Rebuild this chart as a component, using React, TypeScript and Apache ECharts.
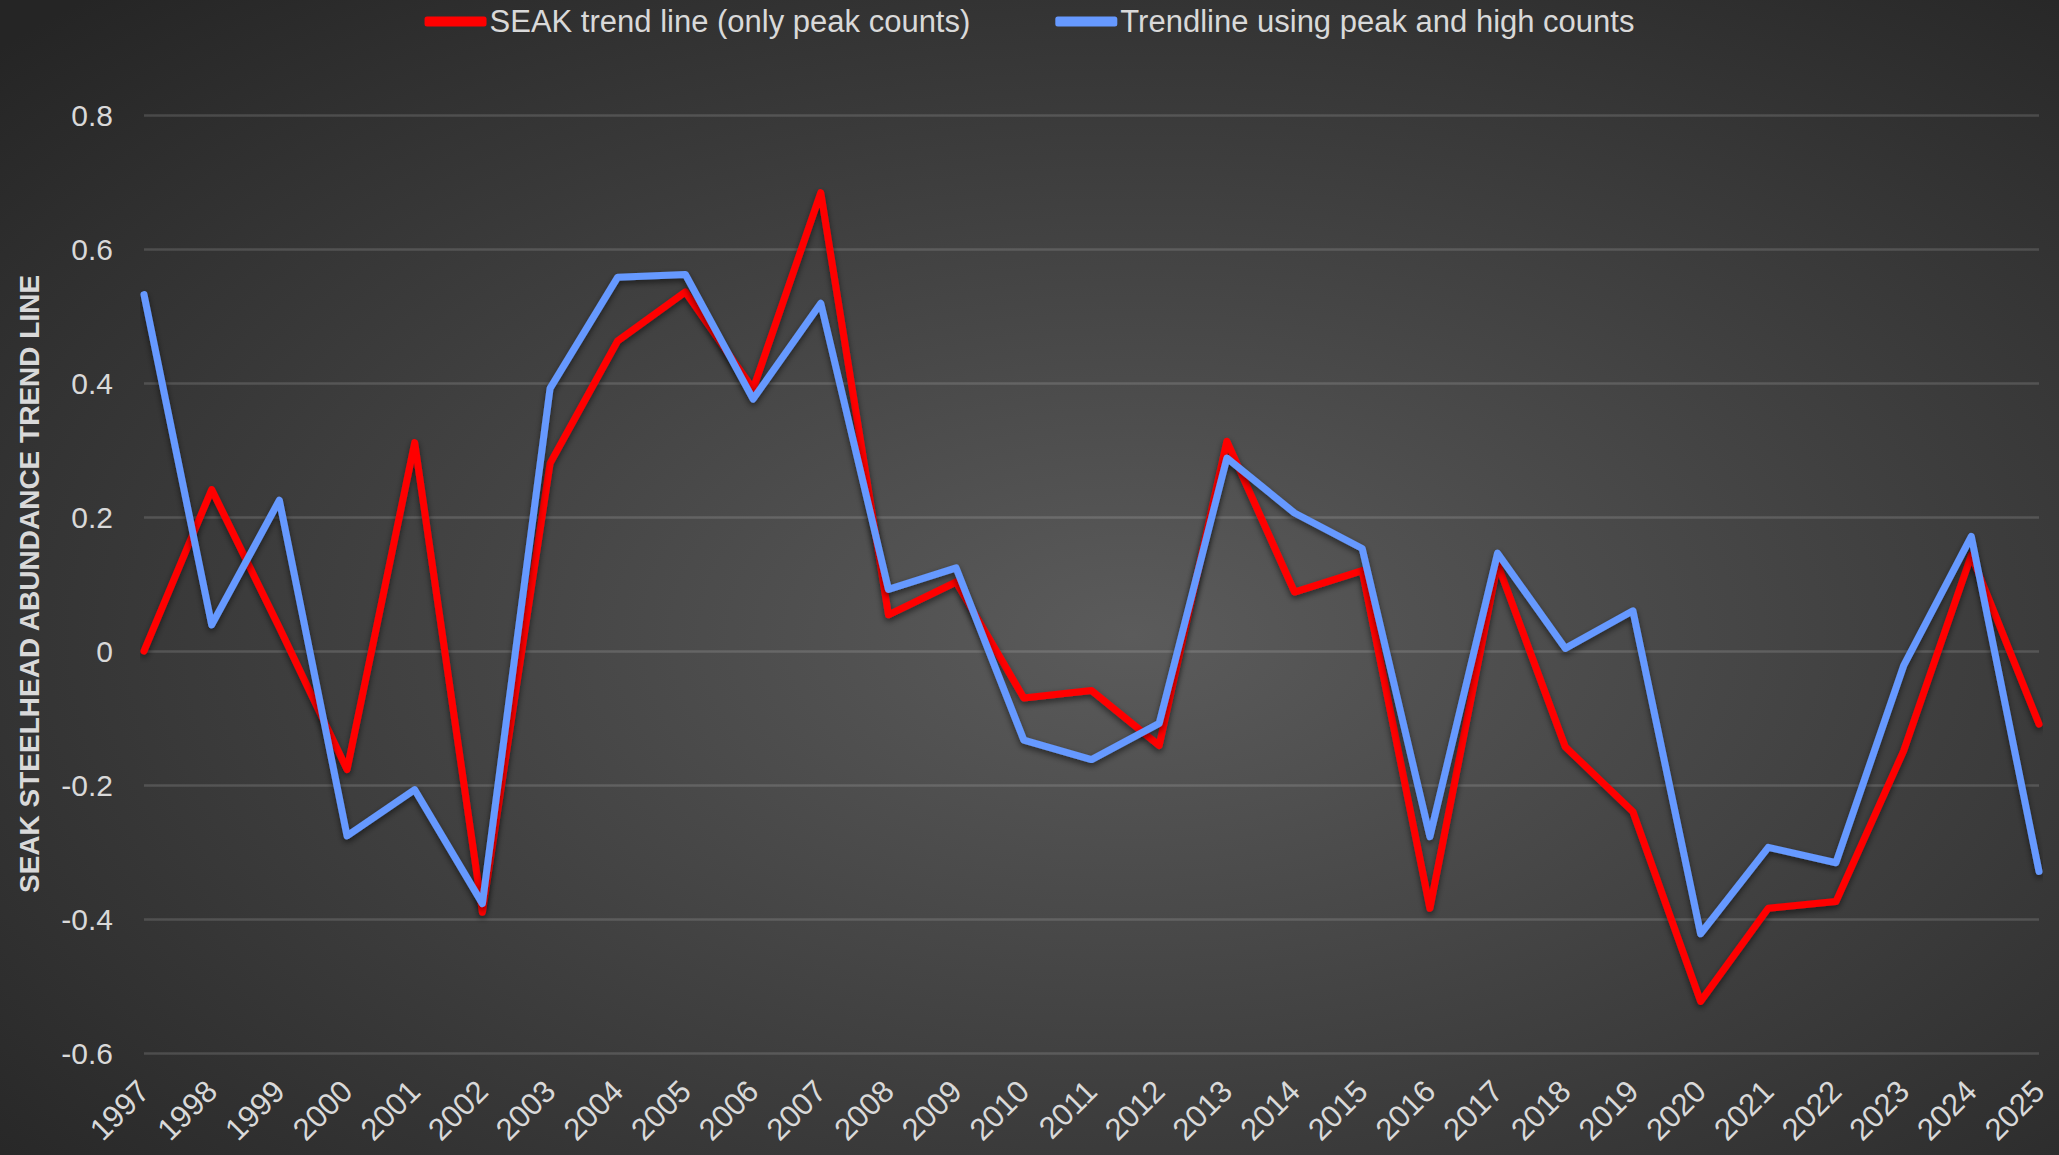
import React, { useEffect, useRef } from "react";
import * as echarts from "echarts";

const years = [
  "1997", "1998", "1999", "2000", "2001", "2002", "2003", "2004", "2005", "2006",
  "2007", "2008", "2009", "2010", "2011", "2012", "2013", "2014", "2015", "2016",
  "2017", "2018", "2019", "2020", "2021", "2022", "2023", "2024", "2025",
];

const peakOnly = [
  0.0, 0.241, 0.035, -0.177, 0.311, -0.39, 0.28, 0.463, 0.536, 0.391,
  0.684, 0.054, 0.103, -0.07, -0.059, -0.141, 0.313, 0.088, 0.12, -0.384,
  0.13, -0.143, -0.24, -0.523, -0.384, -0.374, -0.149, 0.143, -0.109,
];

const peakAndHigh = [
  0.532, 0.039, 0.225, -0.276, -0.207, -0.377, 0.392, 0.558, 0.562, 0.376,
  0.519, 0.092, 0.124, -0.133, -0.162, -0.108, 0.288, 0.206, 0.153, -0.277,
  0.146, 0.004, 0.06, -0.422, -0.293, -0.316, -0.022, 0.171, -0.329,
];

const seriesNames = [
  "SEAK trend line (only peak counts)",
  "Trendline using peak and high counts",
];
const yAxisTitle = "SEAK STEELHEAD ABUNDANCE TREND LINE";

export default function App() {
  const ref = useRef<HTMLDivElement>(null);
  useEffect(() => {
    if (!ref.current) return;
    const chart = echarts.init(ref.current, undefined, { renderer: "svg" });
    const textColor = "#d9d9d9";
    const lineShadow = {
      shadowColor: "rgba(0,0,0,0.55)",
      shadowBlur: 6,
      shadowOffsetY: 3,
    };
    chart.setOption({
      animation: false,
      backgroundColor: {
        type: "radial",
        x: 0.55,
        y: 0.55,
        r: 0.75,
        colorStops: [
          { offset: 0, color: "#5b5b5b" },
          { offset: 1, color: "#252525" },
        ],
      },
      legend: {
        top: 1,
        left: "center",
        itemWidth: 62,
        itemHeight: 10,
        itemGap: 85,
        icon: "roundRect",
        textStyle: {
          color: textColor,
          fontSize: 31,
          fontFamily: "'Liberation Sans', Arial, sans-serif",
          padding: [0, 0, 0, -2],
        },
        data: seriesNames,
      },
      grid: { left: 144, right: 20, top: 115, bottom: 102, containLabel: false },
      xAxis: {
        type: "category",
        data: years,
        boundaryGap: false,
        axisLine: { show: false },
        axisTick: { show: false },
        axisLabel: {
          rotate: 45,
          margin: 33,
          interval: 0,
          color: textColor,
          fontSize: 31,
          fontFamily: "'Liberation Sans', Arial, sans-serif",
        },
      },
      yAxis: {
        type: "value",
        min: -0.6,
        max: 0.8,
        interval: 0.2,
        name: yAxisTitle,
        nameLocation: "middle",
        nameGap: 101,
        nameTextStyle: {
          color: textColor,
          fontSize: 28,
          fontWeight: "bold",
          fontFamily: "'Liberation Sans', Arial, sans-serif",
        },
        axisLine: { show: false },
        axisTick: { show: false },
        axisLabel: {
          margin: 31,
          color: textColor,
          fontSize: 30,
          fontFamily: "'Liberation Sans', Arial, sans-serif",
          formatter: (v: number) => String(Math.round(v * 10) / 10),
        },
        splitLine: {
          lineStyle: { color: "rgba(255,255,255,0.14)", width: 2.5 },
        },
      },
      series: [
        {
          name: seriesNames[0],
          type: "line",
          data: peakOnly,
          showSymbol: false,
          symbol: "none",
          color: "#ff0000",
          lineStyle: { color: "#ff0000", width: 7, cap: "round", join: "round", ...lineShadow },
        },
        {
          name: seriesNames[1],
          type: "line",
          data: peakAndHigh,
          showSymbol: false,
          symbol: "none",
          color: "#6699ff",
          lineStyle: { color: "#6699ff", width: 7, cap: "round", join: "round", ...lineShadow },
        },
      ],
    });
    return () => chart.dispose();
  }, []);
  return (
    <div
      ref={ref}
      style={{ position: "absolute", left: 0, top: 0, width: 2059, height: 1155 }}
    />
  );
}
